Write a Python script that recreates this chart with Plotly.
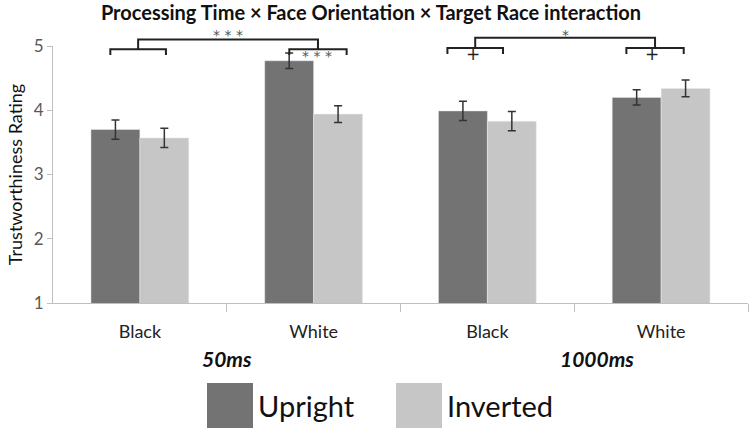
import plotly.graph_objects as go

# ---- data ----
race = ["Black", "White", "Black", "White"]
time_groups = ["50ms", "1000ms"]
upright = [3.70, 4.77, 3.99, 4.20]
upright_err = [0.15, 0.12, 0.15, 0.12]
inverted = [3.57, 3.94, 3.83, 4.34]
inverted_err = [0.15, 0.13, 0.15, 0.13]
series_names = ["Upright", "Inverted"]
colors = ["#737373", "#c6c6c6"]
y_ticks = [1, 2, 3, 4, 5]

# significance brackets: (left, right, level, drop) in data units
brackets = [(-0.17, 0.15, 4.95, 4.86), (0.86, 1.19, 4.95, 4.86),
            (1.77, 2.09, 4.97, 4.875), (2.80, 3.13, 4.97, 4.875)]
top_links = [(0, 1, 5.10), (2, 3, 5.13)]
# (text, x, y, anchor, size)
sig_texts = [("* * *", 0.51, 5.33, "top", 14), ("* * *", 1.02, 4.84, "middle", 14),
             ("*", 2.45, 5.33, "top", 14),
             ("+", 1.92, 4.87, "middle", 17), ("+", 2.95, 4.87, "middle", 17)]

W, H = 751, 432
L, R, T, B = 53, 3, 46, 129
XMIN, XMAX = -0.5, 3.5
YMIN, YMAX = 1, 5

def px(x):
    return (x - XMIN) / (XMAX - XMIN)

def py(v):
    return (v - YMIN) / (YMAX - YMIN)

xs = list(range(len(race)))
fig = go.Figure()
fig.add_trace(go.Bar(x=xs, y=upright, name=series_names[0], marker_color=colors[0],
                     error_y=dict(type="data", array=upright_err, color="#333333",
                                  thickness=1.5, width=4), showlegend=False))
fig.add_trace(go.Bar(x=xs, y=inverted, name=series_names[1], marker_color=colors[1],
                     error_y=dict(type="data", array=inverted_err, color="#333333",
                                  thickness=1.5, width=4), showlegend=False))

shapes = []
line = dict(color="#222222", width=2)
mids = []
for (a, b, lev, drop) in brackets:
    shapes.append(dict(type="path", xref="paper", yref="paper",
                       path=f"M {px(a)},{py(drop)} L {px(a)},{py(lev)} L {px(b)},{py(lev)} L {px(b)},{py(drop)}",
                       line=line))
    mids.append(((a + b) / 2, lev))
for (i, j, top) in top_links:
    (xa, la), (xb, lb) = mids[i], mids[j]
    shapes.append(dict(type="path", xref="paper", yref="paper",
                       path=f"M {px(xa)},{py(la)} L {px(xa)},{py(top)} L {px(xb)},{py(top)} L {px(xb)},{py(lb)}",
                       line=line))

annotations = []
for (t, x, v, anc, sz) in sig_texts:
    annotations.append(dict(text=t, x=px(x), y=py(v), xref="paper", yref="paper",
                            xanchor="center", yanchor=anc, showarrow=False,
                            font=dict(family="DejaVu Sans", size=sz,
                                      color="#555555" if t != "+" else "#222222")))

# group labels
group_pos = [(0, 1), (2, 3)]
group_offsets = [0.0, 0.13]
for g, (a, b), off in zip(time_groups, group_pos, group_offsets):
    annotations.append(dict(text=f"<b><i>{g}</i></b>", x=px((a + b) / 2 + off), y=-0.215,
                            xref="paper", yref="paper", xanchor="center", yanchor="middle",
                            showarrow=False,
                            font=dict(family="Lato", size=21, color="#111111")))

# custom legend (large swatches)
pw = W - L - R
ph = H - T - B
legend_x = [207, 396]
for name, c, lx in zip(series_names, colors, legend_x):
    x0 = (lx - L) / pw
    x1 = (lx + 46 - L) / pw
    y0 = (H - B - 428) / ph
    y1 = (H - B - 383) / ph
    shapes.append(dict(type="rect", xref="paper", yref="paper", x0=x0, x1=x1, y0=y0, y1=y1,
                       fillcolor=c, line=dict(width=0)))
    annotations.append(dict(text=name, x=(lx + 49 - L) / pw, y=(y0 + y1) / 2, xref="paper",
                            yref="paper", xanchor="left", yanchor="middle", showarrow=False,
                            font=dict(family="Lato", size=29, color="#111111")))

fig.update_layout(
    width=W, height=H,
    margin=dict(l=L, r=R, t=T, b=B),
    paper_bgcolor="white", plot_bgcolor="white",
    barmode="group", bargap=0.437, bargroupgap=0,
    title=dict(text="<b>Processing Time × Face Orientation × Target Race interaction</b>",
               x=(371 - L) / pw, xref="paper", xanchor="center", y=1 - 12.5 / H, yanchor="middle",
               font=dict(family="Lato", size=20, color="#111111")),
    shapes=shapes, annotations=annotations,
    font=dict(family="Lato"),
)
fig.update_xaxes(range=[XMIN, XMAX], tickvals=xs, ticktext=race, ticks="",
                 showline=True, linecolor="#bfbfbf", linewidth=1, showgrid=False,
                 zeroline=False, tickfont=dict(family="Lato", size=18, color="#222222"),
                 ticklabelstandoff=12,
                 minor=dict(tickvals=[0.5, 1.5, 2.5, 3.5], ticks="outside", ticklen=8,
                            tickcolor="#bfbfbf", tickwidth=1))
fig.update_yaxes(range=[YMIN, YMAX], tickvals=y_ticks, ticks="outside", ticklen=5,
                 tickcolor="#bfbfbf", showline=True, linecolor="#bfbfbf", linewidth=1,
                 showgrid=False, zeroline=False,
                 tickfont=dict(family="Lato", size=17, color="#595959"),
                 title=dict(text="Trustworthiness Rating", standoff=6,
                            font=dict(family="Lato", size=18, color="#111111")))

fig.write_html("out.html", config={"displayModeBar": False},
               post_script="document.body.style.margin='0';document.body.style.padding='0';")
